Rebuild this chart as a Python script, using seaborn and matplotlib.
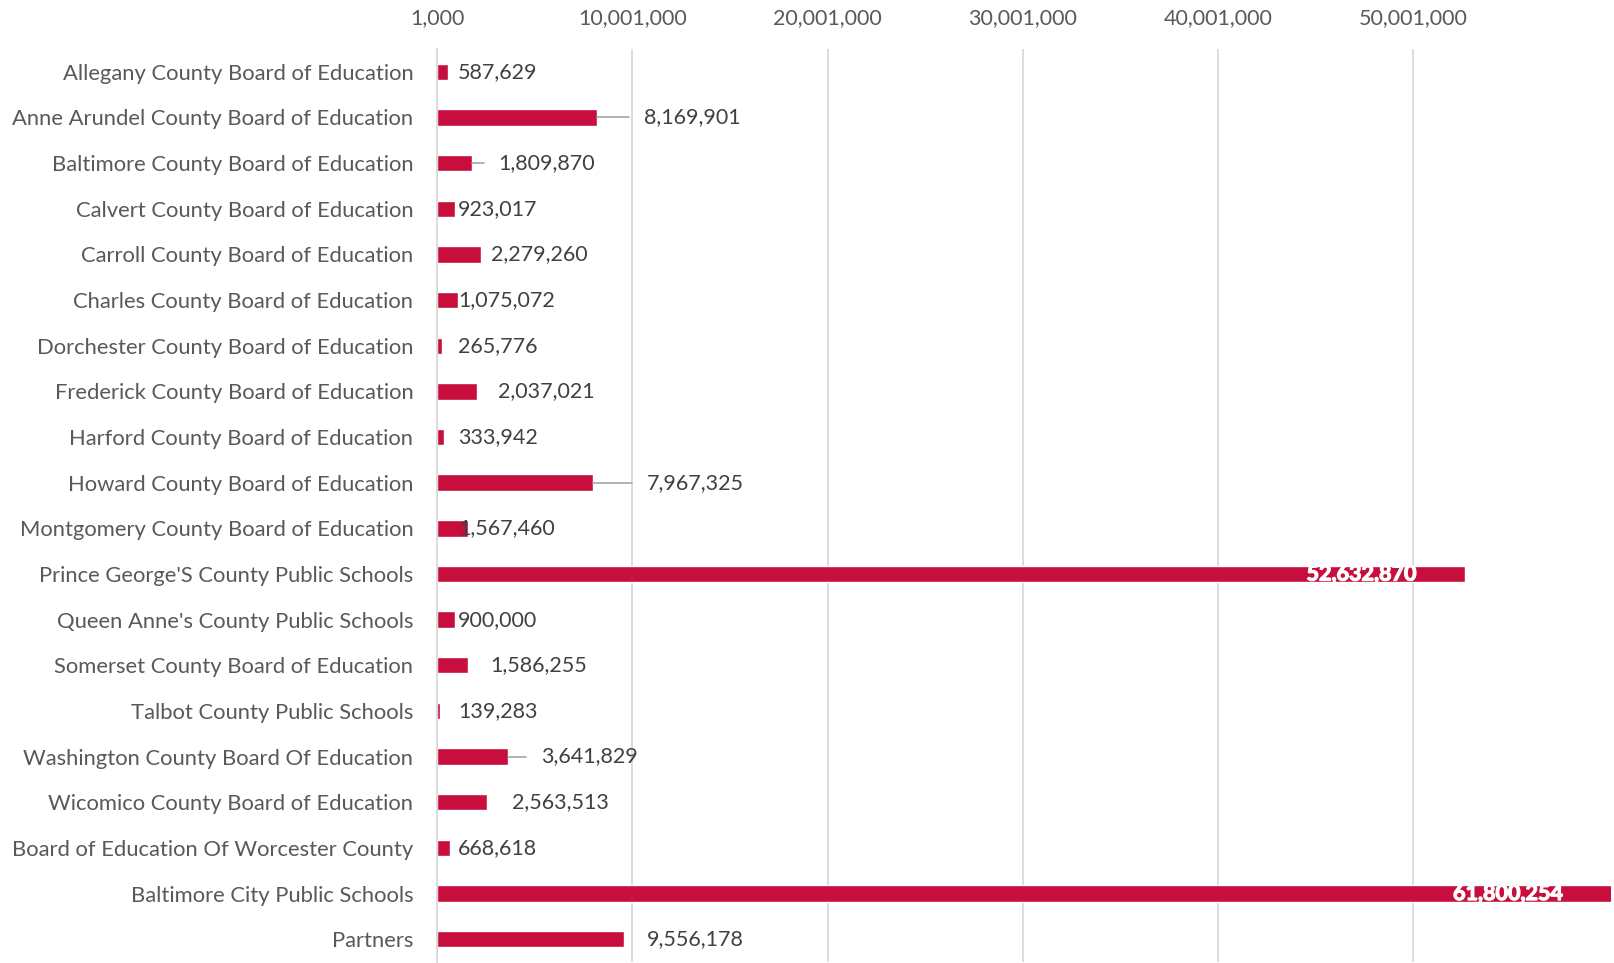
import pandas as pd
import matplotlib
import seaborn as sns

matplotlib.use('Agg')
import matplotlib.pyplot as plt
import matplotlib.patheffects as pe
from matplotlib.ticker import FixedLocator, FuncFormatter


districts = [
    "Allegany County Board of Education",
    "Anne Arundel County Board of Education",
    "Baltimore County Board of Education",
    "Calvert County Board of Education",
    "Carroll County Board of Education",
    "Charles County Board of Education",
    "Dorchester County Board of Education",
    "Frederick County Board of Education",
    "Harford County Board of Education",
    "Howard County Board of Education",
    "Montgomery County Board of Education",
    "Prince George'S County Public Schools",
    "Queen Anne's County Public Schools",
    "Somerset County Board of Education",
    "Talbot County Public Schools",
    "Washington County Board Of Education",
    "Wicomico County Board of Education",
    "Board of Education Of Worcester County",
    "Baltimore City Public Schools",
    "Partners",
]
amounts = [587629, 8169901, 1809870, 923017, 2279260, 1075072, 265776, 2037021,
           333942, 7967325, 1567460, 52632870, 900000, 1586255, 139283, 3641829,
           2563513, 668618, 61800254, 9556178]

# where the (outside) value labels start, in axis units
label_start = [1.09e6, 10.58e6, 3.15e6, 1.09e6, 2.78e6, 1.09e6, 1.09e6, 3.15e6,
               1.09e6, 10.74e6, 1.09e6, None, 1.09e6, 2.73e6, 1.09e6, 5.31e6,
               3.83e6, 1.09e6, None, 10.74e6]
has_leader = [False, True, True, False, False, False, False, False, False, True,
              False, False, False, False, False, True, False, False, False, False]

tick_values = [1000, 10001000, 20001000, 30001000, 40001000, 50001000]
x_min, x_max = 1000, 60121000

BAR = '#C70E3C'
GRID = '#D9D9D9'
AXIS_TXT = '#595959'
LABEL_TXT = '#404040'
W, H = 1615, 963


def draw_chart(data):
    sns.set_style('white')
    plt.rcParams['font.family'] = ['Lato', 'DejaVu Sans']

    fig = plt.figure(figsize=(W / 100, H / 100), dpi=100)
    ax = fig.add_axes([437 / W, 1 / H, (1611 - 437) / W, (961 - 48) / H])

    sns.barplot(data=data, y='District', x='Amount', orient='h', color=BAR,
                saturation=1, width=0.36, ax=ax)

    ax.set_xlim(x_min, x_max)
    ax.set_ylim(len(districts) - 0.5, -0.5)
    ax.set_xlabel('')
    ax.set_ylabel('')

    # value axis on top, gridlines only
    ax.xaxis.tick_top()
    ax.xaxis.set_major_locator(FixedLocator(tick_values))
    ax.xaxis.set_major_formatter(FuncFormatter(lambda v, p: f'{v:,.0f}'))
    ax.tick_params(axis='x', length=0, pad=15, labelsize=15.5, labelcolor=AXIS_TXT)
    ax.grid(axis='x', color=GRID, linewidth=1.3)
    ax.set_axisbelow(True)

    # category axis: ticks between categories
    ax.yaxis.set_minor_locator(FixedLocator([i - 0.5 for i in range(len(districts) + 1)]))
    ax.tick_params(axis='y', which='major', length=0, pad=17, labelsize=15.8, labelcolor=AXIS_TXT)
    ax.tick_params(axis='y', which='minor', length=5, width=1.3, color=GRID)

    for side in ['top', 'right', 'bottom']:
        ax.spines[side].set_visible(False)
    ax.spines['left'].set_color(GRID)
    ax.spines['left'].set_linewidth(1.3)

    gap = 0.74e6
    for i, (val, start, lead) in enumerate(zip(amounts, label_start, has_leader)):
        txt = f'{val:,}'
        if start is None:
            # label inside the end of the (possibly clipped) bar, bold white
            end = min(val, x_max)
            ax.annotate(txt, xy=(end, i), xytext=(-35, 0), textcoords='offset points',
                        ha='right', va='center', color='white', fontsize=15.5,
                        fontweight='bold', annotation_clip=False,
                        path_effects=[pe.withStroke(linewidth=0.9, foreground='white')])
        else:
            ax.text(start, i, txt, ha='left', va='center', color=LABEL_TXT, fontsize=15.5)
            if lead:
                ax.plot([val, start - gap], [i, i], color='#A6A6A6', linewidth=1.2)

    fig.savefig('out.png', dpi=100)


def main():
    data = pd.DataFrame({'District': districts, 'Amount': amounts})
    draw_chart(data)


if __name__ == '__main__':
    main()
